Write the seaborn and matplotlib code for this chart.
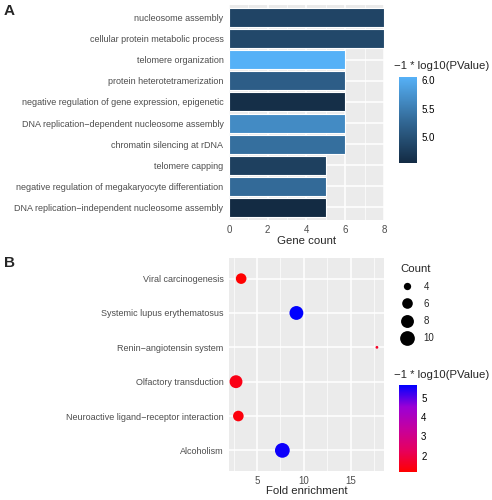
import matplotlib
matplotlib.use("Agg")
import matplotlib.pyplot as plt
from matplotlib.colors import LinearSegmentedColormap, Normalize
from matplotlib.cm import ScalarMappable
from matplotlib.lines import Line2D
import numpy as np
import pandas as pd
import seaborn as sns

# panel A data (GO terms)
go_terms = ["nucleosome assembly",
            "cellular protein metabolic process",
            "telomere organization",
            "protein heterotetramerization",
            "negative regulation of gene expression, epigenetic",
            "DNA replication\u2212dependent nucleosome assembly",
            "chromatin silencing at rDNA",
            "telomere capping",
            "negative regulation of megakaryocyte differentiation",
            "DNA replication\u2212independent nucleosome assembly"]
gene_count = [8, 8, 6, 6, 6, 6, 6, 5, 5, 5]
go_logp = [4.85, 4.9, 6.05, 5.15, 4.6, 5.65, 5.35, 4.8, 5.3, 4.55]

# panel B data (KEGG pathways)
pathways = ["Viral carcinogenesis",
            "Systemic lupus erythematosus",
            "Renin\u2212angiotensin system",
            "Olfactory transduction",
            "Neuroactive ligand\u2212receptor interaction",
            "Alcoholism"]
fold_enrichment = [3.3, 9.2, 17.8, 2.75, 3.0, 7.7]
path_count = [6, 9, 3, 8, 6, 10]
path_logp = [1.15, 5.66, 1.6, 1.4, 1.3, 5.55]
count_breaks = [4, 6, 8, 10]

sns.set_style("white")
plt.rcParams['font.family'] = ['Liberation Sans', 'DejaVu Sans']

df_go = pd.DataFrame({"term": go_terms, "count": gene_count, "logp": go_logp})
df_kegg = pd.DataFrame({"pathway": pathways, "fold": fold_enrichment,
                        "count": path_count, "logp": path_logp})

# colour scales (ggplot-like gradients)
blue_cmap = LinearSegmentedColormap.from_list("gg", ["#132B43", "#336A98", "#56B1F7"])
rb_cmap = LinearSegmentedColormap.from_list(
    "rb", ["#FF0000", "#E6005E", "#C5009F", "#9A00D6", "#0000FF"])
go_norm = Normalize(min(go_logp), max(go_logp))
kegg_norm = Normalize(min(path_logp), max(path_logp))

# ggplot-like size scale (area), diameter in points
cmin, cmax = min(path_count), max(path_count)
def diam(c):
    size = 1 + 5 * np.sqrt((c - cmin) / (cmax - cmin))
    return 1.72 * size + 0.29

tick_col = "#4D4D4D"
fig = plt.figure(figsize=(4.92, 5.0), dpi=100)

def style_axis(ax):
    ax.set_facecolor("#EBEBEB")
    for s in ax.spines.values():
        s.set_visible(False)
    ax.set_axisbelow(True)
    ax.grid(which="major", color="white", linewidth=1.1)
    ax.grid(which="minor", axis="x", color="white", linewidth=0.5)
    ax.tick_params(axis="both", which="major", length=2.5, width=0.6,
                   color="#333333", labelcolor=tick_col, labelsize=6.5, pad=1.5)
    ax.tick_params(axis="x", which="major", labelsize=7, pad=1)
    ax.tick_params(axis="both", which="minor", length=0)
    ax.set_ylabel("")

# ---- Panel A
axA = fig.add_axes([0.4654, 0.56, 0.315, 0.43])
bar_pal = {t: blue_cmap(go_norm(v)) for t, v in zip(go_terms, go_logp)}
sns.barplot(data=df_go, x="count", y="term", hue="term", palette=bar_pal,
            width=0.9, saturation=1, edgecolor="white", linewidth=0.8,
            legend=False, ax=axA)
style_axis(axA)
axA.set_xlim(0, 8)
axA.set_ylim(len(go_terms) - 0.4, -0.6)
axA.set_xticks([0, 2, 4, 6, 8])
axA.set_xticks([1, 3, 5, 7], minor=True)
axA.set_xlabel("Gene count", fontsize=8.2, labelpad=1)

caxA = fig.add_axes([0.811, 0.674, 0.0366, 0.172])
cbA = fig.colorbar(ScalarMappable(go_norm, blue_cmap), cax=caxA)
cbA.outline.set_visible(False)
cbA.set_ticks([5.0, 5.5, 6.0])
cbA.set_ticklabels(["5.0", "5.5", "6.0"])
caxA.tick_params(direction="in", color="white", length=3.5, width=0.6,
                 left=True, right=True, labelsize=7, labelcolor="black", pad=3)
fig.text(0.800, 0.868, "\u22121 * log10(PValue)", fontsize=8.2, va="center")

# ---- Panel B
axB = fig.add_axes([0.4654, 0.058, 0.315, 0.426])
size_map = {c: diam(c) ** 2 for c in path_count}
sns.scatterplot(data=df_kegg, x="fold", y="pathway", hue="logp", palette=rb_cmap,
                hue_norm=kegg_norm, size="count", sizes=size_map,
                linewidth=0, legend=False, ax=axB, zorder=3)
style_axis(axB)
axB.set_xlim(2.0, 18.55)
axB.set_ylim(len(pathways) - 0.4, -0.6)
axB.set_xticks([5, 10, 15])
axB.set_xticks([2.5, 7.5, 12.5, 17.5], minor=True)
axB.set_xlabel("Fold enrichment", fontsize=8.2, labelpad=0)

handles = [Line2D([], [], marker="o", linestyle="", color="black",
                  markersize=diam(c), markeredgewidth=0) for c in count_breaks]
leg = fig.legend(handles, [str(c) for c in count_breaks], title="Count",
                 loc="upper left", bbox_to_anchor=(0.80, 0.485), frameon=False,
                 fontsize=7, title_fontsize=8.2, labelspacing=0.75,
                 handletextpad=1.1, handlelength=1.3, borderpad=0.2,
                 alignment="left")

caxB = fig.add_axes([0.811, 0.056, 0.0366, 0.174])
cbB = fig.colorbar(ScalarMappable(kegg_norm, rb_cmap), cax=caxB)
cbB.outline.set_visible(False)
cbB.set_ticks([2, 3, 4, 5])
caxB.tick_params(direction="in", color="white", length=3.5, width=0.6,
                 left=True, right=True, labelsize=7, labelcolor="black", pad=3)
fig.text(0.800, 0.25, "\u22121 * log10(PValue)", fontsize=8.2, va="center")

# panel letters
fig.text(0.008, 0.978, "A", fontsize=11, fontweight="bold", va="center")
fig.text(0.008, 0.474, "B", fontsize=11, fontweight="bold", va="center")

fig.savefig("out.png", dpi=100)
